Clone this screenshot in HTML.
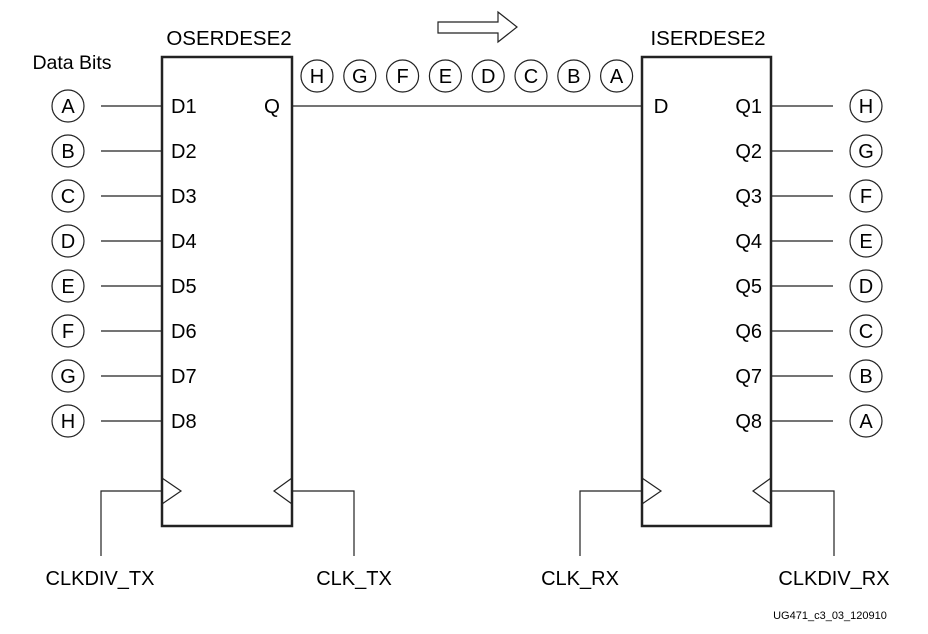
<!DOCTYPE html><html><head><style>body{margin:0;background:#fff}svg{display:block}text{font-family:"Liberation Sans",sans-serif;fill:#000}</style></head><body>
<svg width="928" height="634" viewBox="0 0 928 634" xmlns="http://www.w3.org/2000/svg">
<g fill="none" stroke="#222">
<rect x="162" y="57" width="130" height="469" stroke-width="2.5"/>
<rect x="642" y="57" width="129" height="469" stroke-width="2.5"/>
<line x1="292" y1="106" x2="642" y2="106" stroke-width="1.3"/>
<polygon points="438,22 498,22 498,12 517,27 498,42 498,33 438,33" stroke-width="1.2"/>
<g stroke-width="1.2">
<polyline points="162,478 181,491 162,504"/><polyline points="292,478 274,491 292,504"/>
<polyline points="642,478 661,491 642,504"/><polyline points="771,478 753,491 771,504"/>
<polyline points="162,491 101,491 101,556"/><polyline points="292,491 354,491 354,556"/>
<polyline points="642,491 580,491 580,556"/><polyline points="771,491 834,491 834,556"/>
</g>
</g>
<g font-size="20.5" text-anchor="middle">
<text x="229" y="45">OSERDESE2</text><text x="708" y="45">ISERDESE2</text>
<text x="72" y="69" font-size="19.5">Data Bits</text>
<text x="272" y="113">Q</text><text x="661" y="113">D</text>
<text x="100" y="585" font-size="20">CLKDIV_TX</text><text x="354" y="585" font-size="20">CLK_TX</text>
<text x="580" y="585" font-size="20">CLK_RX</text><text x="834" y="585" font-size="20">CLKDIV_RX</text>
<text x="830" y="619" font-size="11">UG471_c3_03_120910</text>
</g>
<g id="rows" font-size="20"></g>
<script>
var s='http://www.w3.org/2000/svg',g=document.getElementById('rows'),L='ABCDEFGH';
function el(t,a,txt){var e=document.createElementNS(s,t);for(var k in a)e.setAttribute(k,a[k]);if(txt)e.textContent=txt;g.appendChild(e);}
function circ(x,y,c){el('circle',{cx:x,cy:y,r:16,fill:'none',stroke:'#222','stroke-width':1.2});el('text',{x:x,y:y+7,'text-anchor':'middle'},c);}
for(var i=0;i<8;i++){var y=106+i*45;
circ(68,y,L[i]);el('line',{x1:101,y1:y,x2:162,y2:y,stroke:'#222','stroke-width':1.2});
el('text',{x:171,y:y+7},'D'+(i+1));
circ(866,y,L[7-i]);el('line',{x1:771,y1:y,x2:833,y2:y,stroke:'#222','stroke-width':1.2});
el('text',{x:762,y:y+7,'text-anchor':'end'},'Q'+(i+1));
circ(317+i*42.8,76,L[7-i]);}
</script>
</svg></body></html>
